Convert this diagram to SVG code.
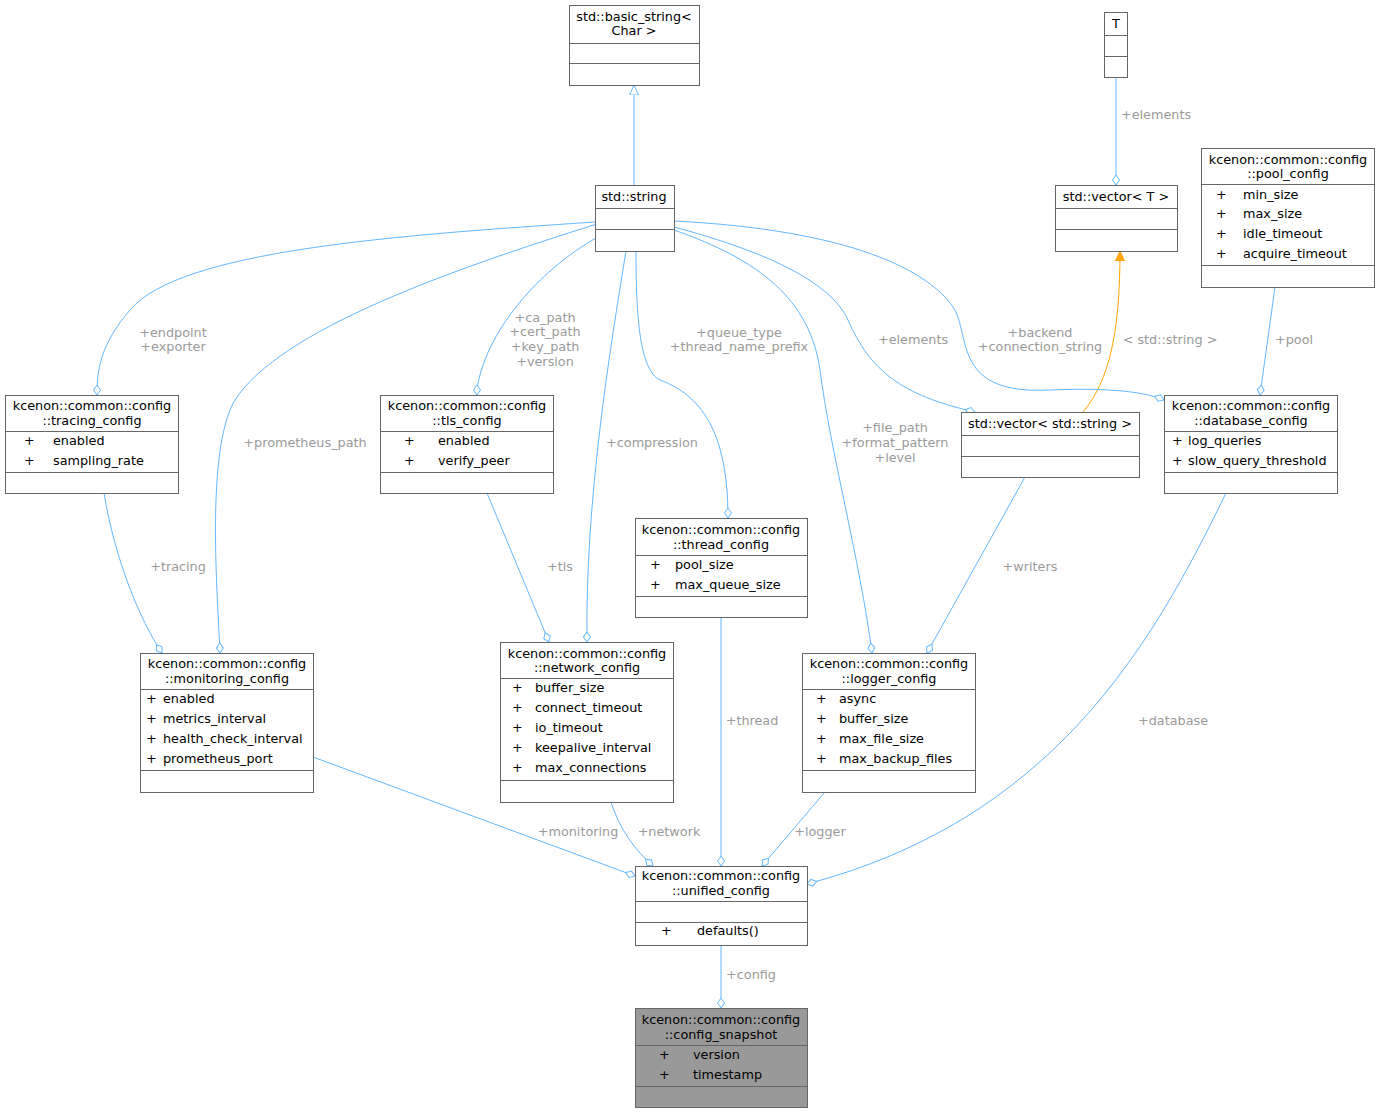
<svg xmlns="http://www.w3.org/2000/svg" width="1380" height="1113" viewBox="0 0 1380 1113">
<style>
text{font-family:"DejaVu Sans",sans-serif;font-size:12.8px;fill:#000}
.c{text-anchor:middle}
.l{fill:#9a9a9a;text-anchor:middle}
.b{fill:#fff;stroke:#666;stroke-width:1}
.s{stroke:#666;stroke-width:1}
.e{fill:none;stroke:#63b8ff;stroke-width:1}
</style>
<defs>
<marker id="d" markerUnits="userSpaceOnUse" markerWidth="14" markerHeight="10" refX="11" refY="4" orient="auto"><path d="M1,4 L6,0.5 L11,4 L6,7.5 Z" fill="#fff" stroke="#63b8ff"/></marker>
<marker id="t" markerUnits="userSpaceOnUse" markerWidth="12" markerHeight="12" refX="10" refY="5" orient="auto"><path d="M0,0.5 L10,5 L0,9.5 Z" fill="#fff" stroke="#63b8ff"/></marker>
<marker id="o" markerUnits="userSpaceOnUse" markerWidth="12" markerHeight="12" refX="10" refY="5" orient="auto"><path d="M0,0.5 L10,5 L0,9.5 Z" fill="#ffa500" stroke="#ffa500"/></marker>
</defs>
<g id="edges">
<path class="e" d="M634,185 L634,85" marker-end="url(#t)"/>
<path class="e" d="M1116,77 L1116,185" marker-end="url(#d)"/>
<text class="l" x="1156" y="119">+elements</text>
<path d="M1083,412 C1110,380 1120,330 1120,251" fill="none" stroke="#ffa500" marker-end="url(#o)"/>
<text class="l" x="1170" y="344">&lt; std::string &gt;</text>
<path class="e" d="M1275,287 L1260,395" marker-end="url(#d)"/>
<text class="l" x="1294" y="344">+pool</text>
<path class="e" d="M595,222 C400,235 180,250 130,310 C100,345 97,370 97,395" marker-end="url(#d)"/>
<text class="l" x="173" y="337">+endpoint</text><text class="l" x="173" y="351">+exporter</text>
<path class="e" d="M597,224 C450,270 280,330 235,400 C205,450 218,600 220,653" marker-end="url(#d)"/>
<text class="l" x="305" y="447">+prometheus_path</text>
<path class="e" d="M596,238 C540,270 500,320 485,360 C478,378 477,388 477,395" marker-end="url(#d)"/>
<text class="l" x="545" y="322">+ca_path</text><text class="l" x="545" y="336">+cert_path</text><text class="l" x="545" y="351">+key_path</text><text class="l" x="545" y="366">+version</text>
<path class="e" d="M626,251 C610,350 585,500 587,642" marker-end="url(#d)"/>
<text class="l" x="652" y="447">+compression</text>
<path class="e" d="M636,251 C636,320 640,370 660,380 C700,395 728,430 728,518" marker-end="url(#d)"/>
<text class="l" x="739" y="337">+queue_type</text><text class="l" x="739" y="351">+thread_name_prefix</text>
<path class="e" d="M674,230 C760,260 810,300 820,370 C830,450 860,560 872,653" marker-end="url(#d)"/>
<text class="l" x="895" y="432">+file_path</text><text class="l" x="895" y="447">+format_pattern</text><text class="l" x="895" y="462">+level</text>
<path class="e" d="M674,227 C760,250 830,280 848,320 C870,370 900,395 975,412" marker-end="url(#d)"/>
<text class="l" x="913" y="344">+elements</text>
<path class="e" d="M674,221 C850,230 930,270 955,310 C970,340 955,395 1050,390 C1100,388 1140,390 1164,400" marker-end="url(#d)"/>
<text class="l" x="1040" y="337">+backend</text><text class="l" x="1040" y="351">+connection_string</text>
<path class="e" d="M104,493 C115,560 140,620 162,653" marker-end="url(#d)"/>
<text class="l" x="178" y="571">+tracing</text>
<path class="e" d="M487,493 L549,642" marker-end="url(#d)"/>
<text class="l" x="560" y="571">+tls</text>
<path class="e" d="M1025,477 L927,653" marker-end="url(#d)"/>
<text class="l" x="1030" y="571">+writers</text>
<path class="e" d="M313,757 L635,876" marker-end="url(#d)"/>
<text class="l" x="578" y="836">+monitoring</text>
<path class="e" d="M611,802 C620,830 635,850 653,866" marker-end="url(#d)"/>
<text class="l" x="669" y="836">+network</text>
<path class="e" d="M721,617 L721,866" marker-end="url(#d)"/>
<text class="l" x="752" y="725">+thread</text>
<path class="e" d="M825,792 L762,866" marker-end="url(#d)"/>
<text class="l" x="820" y="836">+logger</text>
<path class="e" d="M1226,493 C1150,650 1050,820 807,884" marker-end="url(#d)"/>
<text class="l" x="1173" y="725">+database</text>
<path class="e" d="M721,945 L721,1008" marker-end="url(#d)"/>
<text class="l" x="751" y="979">+config</text>
</g>
<g id="basic_string"><rect class="b" x="569.5" y="5.5" width="130" height="80"/><text class="c" x="634" y="21">std::basic_string&lt;</text><text class="c" x="634" y="35">Char &gt;</text><path class="s" d="M569.5,43.5H699.5M569.5,63.5H699.5"/></g>
<g id="T"><rect class="b" x="1104.5" y="12.5" width="23" height="65"/><text class="c" x="1116" y="28">T</text><path class="s" d="M1104.5,35.5H1127.5M1104.5,56.5H1127.5"/></g>
<g id="string"><rect class="b" x="595.5" y="185.5" width="79" height="66"/><text class="c" x="634" y="201">std::string</text><path class="s" d="M595.5,208.5H674.5M595.5,229.5H674.5"/></g>
<g id="vectorT"><rect class="b" x="1055.5" y="185.5" width="122" height="66"/><text class="c" x="1116" y="201">std::vector&lt; T &gt;</text><path class="s" d="M1055.5,208.5H1177.5M1055.5,229.5H1177.5"/></g>
<g id="pool"><rect class="b" x="1201.5" y="148.5" width="173" height="139"/><text class="c" x="1288" y="164">kcenon::common::config</text><text class="c" x="1288" y="178">::pool_config</text><path class="s" d="M1201.5,184.5H1374.5M1201.5,265.5H1374.5"/>
<text x="1216" y="199">+</text><text x="1243" y="199">min_size</text><text x="1216" y="218">+</text><text x="1243" y="218">max_size</text><text x="1216" y="238">+</text><text x="1243" y="238">idle_timeout</text><text x="1216" y="258">+</text><text x="1243" y="258">acquire_timeout</text></g>
<g id="tracing"><rect class="b" x="5.5" y="395.5" width="173" height="98"/><text class="c" x="92" y="410">kcenon::common::config</text><text class="c" x="92" y="425">::tracing_config</text><path class="s" d="M5.5,431.5H178.5M5.5,472.5H178.5"/>
<text x="24" y="445">+</text><text x="53" y="445">enabled</text><text x="24" y="465">+</text><text x="53" y="465">sampling_rate</text></g>
<g id="tls"><rect class="b" x="380.5" y="395.5" width="173" height="98"/><text class="c" x="467" y="410">kcenon::common::config</text><text class="c" x="467" y="425">::tls_config</text><path class="s" d="M380.5,431.5H553.5M380.5,472.5H553.5"/>
<text x="404" y="445">+</text><text x="438" y="445">enabled</text><text x="404" y="465">+</text><text x="438" y="465">verify_peer</text></g>
<g id="vecstring"><rect class="b" x="961.5" y="412.5" width="178" height="65"/><text class="c" x="1050" y="428">std::vector&lt; std::string &gt;</text><path class="s" d="M961.5,435.5H1139.5M961.5,456.5H1139.5"/></g>
<g id="database"><rect class="b" x="1164.5" y="395.5" width="173" height="98"/><text class="c" x="1251" y="410">kcenon::common::config</text><text class="c" x="1251" y="425">::database_config</text><path class="s" d="M1164.5,431.5H1337.5M1164.5,472.5H1337.5"/>
<text x="1172" y="445">+</text><text x="1188" y="445">log_queries</text><text x="1172" y="465">+</text><text x="1188" y="465">slow_query_threshold</text></g>
<g id="thread"><rect class="b" x="635.5" y="518.5" width="172" height="99"/><text class="c" x="721" y="534">kcenon::common::config</text><text class="c" x="721" y="549">::thread_config</text><path class="s" d="M635.5,555.5H807.5M635.5,596.5H807.5"/>
<text x="650" y="569">+</text><text x="675" y="569">pool_size</text><text x="650" y="589">+</text><text x="675" y="589">max_queue_size</text></g>
<g id="monitoring"><rect class="b" x="140.5" y="653.5" width="173" height="139"/><text class="c" x="227" y="668">kcenon::common::config</text><text class="c" x="227" y="683">::monitoring_config</text><path class="s" d="M140.5,689.5H313.5M140.5,770.5H313.5"/>
<text x="146" y="703">+</text><text x="163" y="703">enabled</text><text x="146" y="723">+</text><text x="163" y="723">metrics_interval</text><text x="146" y="743">+</text><text x="163" y="743">health_check_interval</text><text x="146" y="763">+</text><text x="163" y="763">prometheus_port</text></g>
<g id="network"><rect class="b" x="500.5" y="642.5" width="173" height="160"/><text class="c" x="587" y="658">kcenon::common::config</text><text class="c" x="587" y="672">::network_config</text><path class="s" d="M500.5,678.5H673.5M500.5,780.5H673.5"/>
<text x="512" y="692">+</text><text x="535" y="692">buffer_size</text><text x="512" y="712">+</text><text x="535" y="712">connect_timeout</text><text x="512" y="732">+</text><text x="535" y="732">io_timeout</text><text x="512" y="752">+</text><text x="535" y="752">keepalive_interval</text><text x="512" y="772">+</text><text x="535" y="772">max_connections</text></g>
<g id="logger"><rect class="b" x="802.5" y="653.5" width="173" height="139"/><text class="c" x="889" y="668">kcenon::common::config</text><text class="c" x="889" y="683">::logger_config</text><path class="s" d="M802.5,689.5H975.5M802.5,770.5H975.5"/>
<text x="816" y="703">+</text><text x="839" y="703">async</text><text x="816" y="723">+</text><text x="839" y="723">buffer_size</text><text x="816" y="743">+</text><text x="839" y="743">max_file_size</text><text x="816" y="763">+</text><text x="839" y="763">max_backup_files</text></g>
<g id="unified"><rect class="b" x="635.5" y="866.5" width="172" height="79"/><text class="c" x="721" y="880">kcenon::common::config</text><text class="c" x="721" y="895">::unified_config</text><path class="s" d="M635.5,901.5H807.5M635.5,922.5H807.5"/>
<text x="661" y="935">+</text><text x="697" y="935">defaults()</text></g>
<g id="snapshot"><rect x="635.5" y="1008.5" width="172" height="99" fill="#999" stroke="#666"/><text class="c" x="721" y="1024">kcenon::common::config</text><text class="c" x="721" y="1039">::config_snapshot</text><path class="s" d="M635.5,1045.5H807.5M635.5,1086.5H807.5"/>
<text x="659" y="1059">+</text><text x="693" y="1059">version</text><text x="659" y="1079">+</text><text x="693" y="1079">timestamp</text></g>
</svg>
